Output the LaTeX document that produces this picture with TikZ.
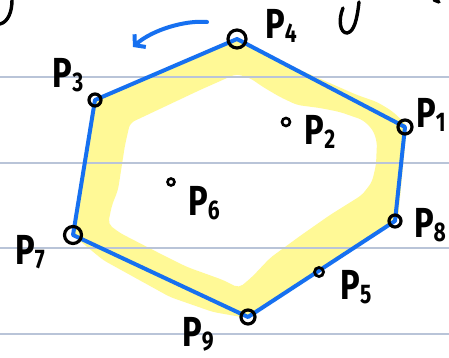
\documentclass[tikz,border=0pt]{standalone}
\usepackage{fontspec}
\setmainfont{Fira Sans}
\usetikzlibrary{arrows.meta}
\definecolor{hlyellow}{RGB}{255,249,150}
\definecolor{hullblue}{RGB}{22,112,240}
\definecolor{rulegray}{RGB}{185,196,216}
\newcommand{\plab}[1]{\scalebox{0.78}[1]{\bfseries{\fontsize{42}{42}\selectfont P}\raisebox{-4pt}{\fontsize{27}{27}\selectfont #1}}}
\begin{document}
\begin{tikzpicture}[x=1pt,y=-1pt,
  ptc/.style={circle,draw=black,line width=3.2pt,inner sep=0pt,minimum size=#1},
  lab/.style={inner sep=0pt},
  hull/.style={draw=hullblue,line width=4pt,line join=round},
  rulel/.style={draw=rulegray,line width=1.5pt},
  ink/.style={draw=black,line width=3.4pt,line cap=round},
  arr/.style={draw=hullblue,line width=4pt,line cap=round,line join=round,
    -{Straight Barb[length=7pt,width=17pt,line width=4pt]}}]
\useasboundingbox[fill=white] (0,0) rectangle (449,358);
% highlighter band
\fill[hlyellow,even odd rule,rounded corners=5pt]
  (94,100) -- (236,38) -- (300,70) -- (357,95) -- (377,102) -- (392,111) -- (407,125)
  -- (398,219) -- (247,318) -- (213,312) -- (170,297) -- (103,260) -- (74,236) -- cycle
  (130,123) -- (200,90) -- (236,74) -- (250,78) -- (263,87) -- (280,97) -- (297,105)
  -- (320,108) -- (340,112) -- (363,120) -- (373,130) -- (377,142) -- (376,165)
  -- (372,182) -- (362,195) -- (330,215) -- (300,236) -- (270,258) -- (252,277)
  -- (239,288) -- (223,280) -- (187,267) -- (153,250) -- (120,233) -- (108,224)
  -- (112,205) -- (118,190) -- (125,145) -- cycle;
% ruled paper
\foreach \yy in {77,163,248,334} \draw[rulel] (0,\yy) -- (449,\yy);
% hull vertices
\coordinate (c4) at (237,39);
\coordinate (c1) at (405,127);
\coordinate (c8) at (395,221);
\coordinate (c9) at (248,317);
\coordinate (c7) at (73,235);
\coordinate (c3) at (95,100);
% hull
\draw[hull] (c4) -- (c1) -- (c8) -- (c9) -- (c7) -- (c3) -- cycle;
% points
\node[ptc=18pt] (p4) at (c4) {};
\node[ptc=14pt] (p1) at (c1) {};
\node[ptc=12pt] (p8) at (c8) {};
\node[ptc=9pt,line width=2.8pt] (p5) at (319,272) {};
\node[ptc=14pt] (p9) at (c9) {};
\node[ptc=17pt] (p7) at (c7) {};
\node[ptc=12pt] (p3) at (c3) {};
\node[ptc=8pt,line width=2.6pt] (p2) at (286,122) {};
\node[ptc=7pt,line width=2.6pt] (p6) at (171,182) {};
% labels
\node[lab] (l4) at (281,26) {\plab{4}};
\node[lab] (l3) at (68,75) {\plab{3}};
\node[lab] (l1) at (431,115) {\plab{1}};
\node[lab] (l2) at (320,132) {\plab{2}};
\node[lab] (l6) at (204,203) {\plab{6}};
\node[lab] (l7) at (30,252) {\plab{7}};
\node[lab] (l9) at (198,334) {\plab{9}};
\node[lab] (l5) at (356,287) {\plab{5}};
\node[lab] (l8) at (430,225) {\plab{8}};
% orientation arrow
\coordinate (as) at (207,22);
\coordinate (ae) at (133,47);
\draw[arr] (as) .. controls (185,20) and (152,30) .. (ae);
% partial handwriting at the edges
\draw[ink] (12,0) .. controls (12,12) and (8,22) .. (0,24);
\draw[ink] (359,2) .. controls (357,20) and (354,32) .. (347,33)
  .. controls (340,33) and (338,20) .. (343,8);
\draw[ink] (434,0) -- (439,2);
\end{tikzpicture}
\end{document}
